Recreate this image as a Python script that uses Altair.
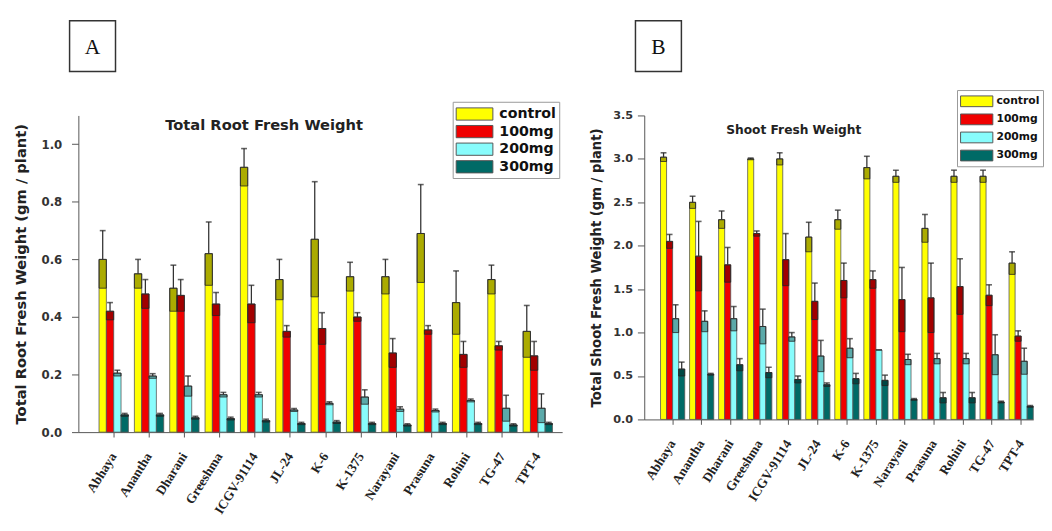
import altair as alt
import pandas as pd

cultivars = ["Abhaya", "Anantha", "Dharani", "Greeshma", "ICGV-91114", "JL-24", "K-6",
             "K-1375", "Narayani", "Prasuna", "Rohini", "TG-47", "TPT-4"]
treatments = ["control", "100mg", "200mg", "300mg"]
colors = ["#FFFF00", "#F00000", "#88FCFC", "#006A66"]

# Panel A: Total Root Fresh Weight (gm / plant)
root_control = [0.60, 0.55, 0.50, 0.62, 0.92, 0.53, 0.67, 0.54, 0.54, 0.69, 0.45, 0.53, 0.35]
root_control_err = [0.10, 0.05, 0.08, 0.11, 0.065, 0.07, 0.20, 0.05, 0.06, 0.17, 0.11, 0.05, 0.09]
root_100 = [0.42, 0.48, 0.475, 0.445, 0.445, 0.35, 0.36, 0.40, 0.275, 0.355, 0.27, 0.30, 0.265]
root_100_err = [0.03, 0.05, 0.055, 0.04, 0.065, 0.02, 0.055, 0.015, 0.05, 0.015, 0.045, 0.015, 0.05]
root_200 = [0.205, 0.195, 0.16, 0.13, 0.13, 0.077, 0.10, 0.122, 0.08, 0.075, 0.11, 0.083, 0.083]
root_200_err = [0.01, 0.008, 0.035, 0.008, 0.008, 0.005, 0.005, 0.025, 0.008, 0.005, 0.005, 0.045, 0.05]
root_300 = [0.06, 0.06, 0.05, 0.047, 0.04, 0.03, 0.035, 0.03, 0.025, 0.03, 0.03, 0.025, 0.03]
root_300_err = [0.005, 0.005, 0.005, 0.005, 0.005, 0.004, 0.005, 0.004, 0.004, 0.004, 0.004, 0.004, 0.004]

# Panel B: Total Shoot Fresh Weight (gm / plant)
shoot_control = [3.02, 2.50, 2.30, 3.00, 3.00, 2.10, 2.30, 2.90, 2.80, 2.20, 2.80, 2.80, 1.80]
shoot_control_err = [0.05, 0.07, 0.10, 0.01, 0.07, 0.17, 0.11, 0.13, 0.07, 0.16, 0.07, 0.07, 0.13]
shoot_100 = [2.05, 1.88, 1.78, 2.14, 1.84, 1.36, 1.60, 1.61, 1.38, 1.40, 1.53, 1.43, 0.96]
shoot_100_err = [0.08, 0.40, 0.20, 0.03, 0.30, 0.21, 0.20, 0.10, 0.37, 0.40, 0.32, 0.12, 0.06]
shoot_200 = [1.16, 1.13, 1.16, 1.07, 0.95, 0.73, 0.82, 0.80, 0.69, 0.70, 0.70, 0.745, 0.67]
shoot_200_err = [0.16, 0.12, 0.14, 0.20, 0.05, 0.18, 0.11, 0.0, 0.06, 0.06, 0.06, 0.23, 0.15]
shoot_300 = [0.58, 0.52, 0.63, 0.54, 0.46, 0.40, 0.47, 0.45, 0.23, 0.25, 0.25, 0.20, 0.15]
shoot_300_err = [0.08, 0.01, 0.07, 0.06, 0.04, 0.02, 0.06, 0.06, 0.01, 0.06, 0.06, 0.01, 0.01]


def long_df(vals, errs):
    rows = []
    for t, v, e in zip(treatments, vals, errs):
        for c, vi, ei in zip(cultivars, v, e):
            rows.append(dict(cultivar=c, treatment=t, value=vi, err=ei,
                             lo=vi - ei, hi=vi + ei))
    return pd.DataFrame(rows)


root_df = long_df([root_control, root_100, root_200, root_300],
                  [root_control_err, root_100_err, root_200_err, root_300_err])
shoot_df = long_df([shoot_control, shoot_100, shoot_200, shoot_300],
                   [shoot_control_err, shoot_100_err, shoot_200_err, shoot_300_err])

LEG_PATH = "M-1,-0.7H3.2V0.7H-1Z"
SANS_B = "DejaVu Sans"


def panel(df, title, ytitle, ymax, ystep, major_test, width, height, pin, pout, align,
          title_x, title_y, title_size, ytitle_size, ylabel_size, ytitle_pad,
          ylabel_pad, ytick, leg_x, leg_y, leg_size, leg_font, leg_off, leg_rowpad,
          leg_pad, letter, box_x):
    n_minor = int(round(ymax / ystep))
    yvals = [round(i * ystep, 3) for i in range(n_minor + 1)]
    yaxis = alt.Axis(
        title=ytitle, values=yvals,
        labelExpr=f"{major_test} ? format(datum.value, '.1f') : ''",
        tickSize={"condition": {"test": major_test, "value": ytick}, "value": 4},
        labelFont=SANS_B, labelFontWeight="bold", labelFontSize=ylabel_size,
        labelColor="#333", titleFont=SANS_B, titleFontWeight="bold",
        titleFontSize=ytitle_size, titleColor="#222", titlePadding=ytitle_pad,
        domainColor="#555", tickColor="#555", grid=False, labelPadding=ylabel_pad,
    )
    xaxis = alt.Axis(
        title=None, labelAngle=302, labelAlign="right", labelBaseline="middle",
        labelFont="Liberation Serif", labelFontWeight="bold", labelFontSize=13.5,
        labelColor="#222", labelPadding=17, tickSize=5, domainColor="#555",
        tickColor="#555",
    )
    base = alt.Chart(df).encode(
        x=alt.X("cultivar:N", sort=cultivars, axis=xaxis,
                scale=alt.Scale(paddingInner=pin, paddingOuter=pout, align=align)),
        xOffset=alt.XOffset("treatment:N", sort=treatments,
                            scale=alt.Scale(domain=treatments, paddingInner=0, paddingOuter=0)),
    )
    yscale = alt.Scale(domain=[0, ymax], nice=False, zero=True)
    bars = base.mark_bar(stroke="#555", strokeWidth=0.8).encode(
        y=alt.Y("value:Q", scale=yscale, axis=yaxis),
        color=alt.Color(
            "treatment:N", sort=treatments,
            scale=alt.Scale(domain=treatments, range=colors),
            legend=alt.Legend(
                title=None, orient="none", legendX=leg_x, legendY=leg_y,
                symbolType=LEG_PATH, symbolSize=leg_size, symbolStrokeColor="#555",
                symbolStrokeWidth=1, labelFont=SANS_B, labelFontWeight="bold",
                labelFontSize=leg_font, labelColor="#111", labelOffset=leg_off,
                strokeColor="#999", padding=leg_pad, rowPadding=leg_rowpad,
                fillColor="white",
            ),
        ),
    )
    shade = base.mark_bar(fill="black", fillOpacity=0.33, stroke="#222",
                          strokeWidth=0.8).encode(y="lo:Q", y2="value:Q")
    whisk = base.mark_rule(color="#333", strokeWidth=1.3).encode(y="value:Q", y2="hi:Q")
    cap = base.transform_filter("datum.err > 0.001").mark_tick(
        color="#222", thickness=1.6, size=6).encode(y="hi:Q")

    tdf = pd.DataFrame({"t": [title]})
    ttl = alt.Chart(tdf).mark_text(font=SANS_B, fontWeight="bold",
                                   fontSize=title_size, color="#222").encode(
        text="t:N", x=alt.value(title_x), y=alt.value(title_y))
    ldf = pd.DataFrame({"t": [letter]})
    box = alt.Chart(ldf).mark_rect(fill="white", stroke="#333", strokeWidth=1.5).encode(
        x=alt.value(box_x), x2=alt.value(box_x + 47),
        y=alt.value(-97), y2=alt.value(-45))
    let = alt.Chart(ldf).mark_text(font="Liberation Serif", fontSize=22, color="#111").encode(
        text="t:N", x=alt.value(box_x + 23.5), y=alt.value(-70))

    return alt.layer(bars, shade, whisk, cap, ttl, box, let).properties(
        width=width, height=height)


chart_a = panel(root_df, "Total Root Fresh Weight", "Total Root Fresh Weight (gm / plant)",
                1.1, 0.1, "round(datum.value*10) % 2 == 0", 495, 324, 0.17, 0.43, 0.68,
                190, 10, 15, 15, 12, 13, 10, 7,
                383, -14, 320, 14.5, 25.7, 0, 3, "A", -9)
chart_b = panel(shoot_df, "Shoot Fresh Weight", "Total Shoot Fresh Weight (gm / plant)",
                3.5, 0.25, "round(datum.value*4) % 2 == 0", 398, 311, 0.167, 0.28, 1.0,
                153, 15, 12.5, 13.5, 11.5, 9.5, 5, 7,
                320, -26, 247, 11, 20.3, 1.5, 3, "B", -9)

chart = alt.hconcat(chart_a, chart_b, spacing=28).resolve_scale(
    color="independent", y="independent", x="independent", xOffset="independent"
).configure_view(stroke=None).properties(
    padding={"left": 5, "top": 6, "right": 0, "bottom": 0}, background="white")

chart.save("out.html", embed_options={"renderer": "svg", "actions": False})
